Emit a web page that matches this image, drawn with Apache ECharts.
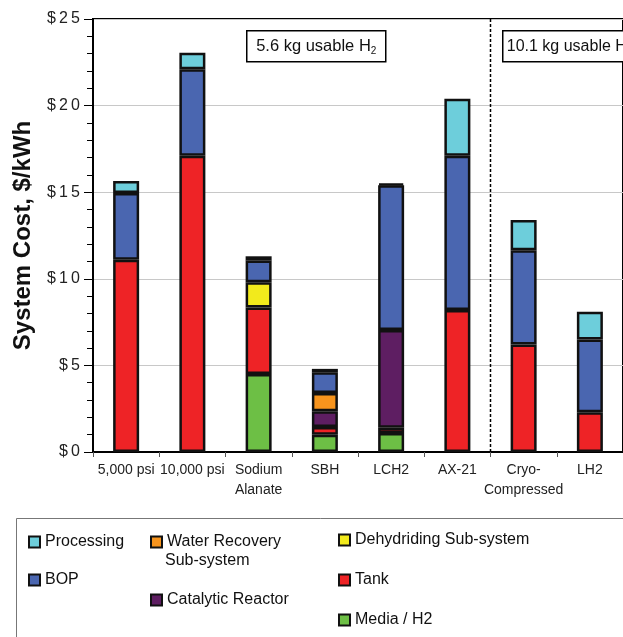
<!DOCTYPE html>
<html>
<head>
<meta charset="utf-8">
<script src="https://cdn.jsdelivr.net/npm/echarts@6/dist/echarts.min.js"></script>
<style>
html,body{margin:0;padding:0;background:#fff;}
#chart{width:623px;height:637px;}
</style>
</head>
<body>
<div id="chart"></div>
<script>
// ---- data ----
const categories = ['5,000 psi', '10,000 psi', 'Sodium\nAlanate', 'SBH', 'LCH2', 'AX-21', 'Cryo-\nCompressed', 'LH2'];
const mediaH2    = [null, null, 4.5,  1.0,  1.1,  null, null, null];
const tank       = [11.1, 17.1, 3.85, 0.45, 0.3,  8.2,  6.2,  2.3];
const catalytic  = [null, null, null, 0.9,  5.65, null, null, null];
const waterRec   = [null, null, null, 1.05, null, null, null, null];
const dehyd      = [null, null, 1.45, null, null, null, null, null];
const bop        = [3.85, 5.0,  1.25, 1.2,  8.35, 8.9,  5.45, 4.2];
const processing = [0.7,  0.95, 0.25, 0.2,  0.1,  3.3,  1.75, 1.6];
const yTicks = [0, 5, 10, 15, 20, 25];
const groupSplitAt = 6; // boundary between 5.6 kg and 10.1 kg systems (category index)
const groupLabels = ['5.6 kg usable H', '10.1 kg usable H'];

const FONT = 'Liberation Sans, Arial, sans-serif';
const colors = {
  media: '#6dbf45', tank: '#ee2326', cat: '#5e1e62', water: '#f7941d',
  dehyd: '#f2ea1c', bop: '#4a66b0', proc: '#6dcedb'
};

function barSeries(name, data, color) {
  return {
    name: name, type: 'bar', stack: 'total', data: data, barWidth: 26,
    itemStyle: { color: color, borderColor: '#111', borderWidth: 2.5 },
    emphasis: { disabled: true }
  };
}

const chart = echarts.init(document.getElementById('chart'), null, { renderer: 'canvas' });

const legendText = { fontFamily: FONT, fontSize: 16, color: '#111', lineHeight: 20 };
function legendAt(name, left, top, fmt) {
  return {
    data: [name], left: left, top: top, icon: 'rect', itemWidth: 11, itemHeight: 11,
    itemStyle: { borderColor: '#111', borderWidth: 2 },
    textStyle: legendText, selectedMode: false, padding: 0,
    formatter: fmt || '{name}'
  };
}

const option = {
  animation: false,
  backgroundColor: '#fff',
  grid: { left: 93, top: 19, width: 538, height: 433, show: true, borderColor: '#000', borderWidth: 2, backgroundColor: 'transparent' },
  xAxis: [{
    type: 'category', data: categories,
    axisLine: { lineStyle: { color: '#000', width: 2 } },
    axisTick: { show: true, length: 5, lineStyle: { color: '#555', width: 1 } },
    axisLabel: { fontFamily: FONT, fontSize: 14, color: '#222', lineHeight: 20, margin: 8, interval: 0 }
  }, {
    type: 'value', min: 0, max: categories.length, show: false
  }],
  yAxis: {
    type: 'value', min: yTicks[0], max: yTicks[yTicks.length - 1], interval: 5,
    name: 'System Cost, $/kWh', nameLocation: 'middle', nameGap: 58,
    nameTextStyle: { fontFamily: FONT, fontSize: 24, fontWeight: 'bold', color: '#111' },
    axisLine: { show: true, lineStyle: { color: '#000', width: 2 } },
    axisTick: { show: true, length: 9, lineStyle: { color: '#000', width: 1 } },
    minorTick: { show: true, splitNumber: 5, length: 6, lineStyle: { color: '#000', width: 1 } },
    splitLine: { show: true, lineStyle: { color: '#c8c8c8', width: 1 } },
    axisLabel: {
      fontFamily: FONT, fontSize: 16, color: '#222', margin: 13,
      formatter: v => ('$' + v).split('').join('\u2009')
    }
  },
  legend: [
    legendAt('Processing', 28, 532),
    legendAt('BOP', 28, 570),
    legendAt('Water Recovery Sub-system', 150, 532, 'Water Recovery'),
    legendAt('Catalytic Reactor', 150, 590),
    legendAt('Dehydriding Sub-system', 338, 530),
    legendAt('Tank', 338, 570),
    legendAt('Media / H2', 338, 610)
  ],
  series: [
    barSeries('Media / H2', mediaH2, colors.media),
    barSeries('Tank', tank, colors.tank),
    barSeries('Catalytic Reactor', catalytic, colors.cat),
    barSeries('Water Recovery Sub-system', waterRec, colors.water),
    barSeries('Dehydriding Sub-system', dehyd, colors.dehyd),
    barSeries('BOP', bop, colors.bop),
    barSeries('Processing', processing, colors.proc),
    {
      name: 'split', type: 'line', xAxisIndex: 1, yAxisIndex: 0, symbol: 'none', silent: true,
      data: [[groupSplitAt, yTicks[0]], [groupSplitAt, yTicks[yTicks.length - 1]]],
      lineStyle: { color: '#000', width: 1.5, type: [3, 2] }, z: 5
    }
  ],
  graphic: [
    { type: 'rect', left: 14, top: 516, shape: { width: 700, height: 200 }, style: { fill: 'none', stroke: '#777', lineWidth: 1 }, z: -1 },
    { type: 'text', left: 165, top: 553, style: { text: 'Sub-system', font: '16px ' + FONT, fill: '#111' } },
    { type: 'group', left: 246, top: 30, children: [
      { type: 'rect', shape: { x: 0, y: 0, width: 139, height: 31 }, style: { fill: '#fff', stroke: '#000', lineWidth: 1.5 } },
      { type: 'text', x: 69.5, y: 16, style: {
        text: '{a|' + groupLabels[0] + '}{s|2}', align: 'center', verticalAlign: 'middle',
        rich: { a: { fontFamily: FONT, fontSize: 16.5, fill: '#111', lineHeight: 20 }, s: { fontFamily: FONT, fontSize: 10, fill: '#111', lineHeight: 20, padding: [8, 0, 0, 0] } }
      } }
    ] },
    { type: 'group', left: 502, top: 30, children: [
      { type: 'rect', shape: { x: 0, y: 0, width: 140, height: 31 }, style: { fill: '#fff', stroke: '#000', lineWidth: 1.5 } },
      { type: 'text', x: 4, y: 16, style: {
        text: '{a|' + groupLabels[1] + '}{s|2}', align: 'left', verticalAlign: 'middle',
        rich: { a: { fontFamily: FONT, fontSize: 16, fill: '#111', lineHeight: 20 }, s: { fontFamily: FONT, fontSize: 10, fill: '#111', lineHeight: 20, padding: [8, 0, 0, 0] } }
      } }
    ] }
  ]
};
chart.setOption(option);
</script>
</body>
</html>
